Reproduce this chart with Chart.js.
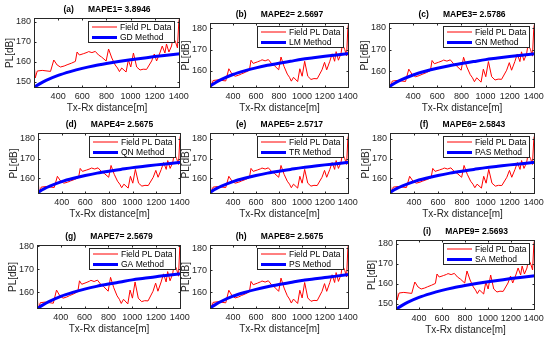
<!DOCTYPE html>
<html>
<head>
<meta charset="utf-8">
<script src="https://cdn.jsdelivr.net/npm/chart.js@4.4.1/dist/chart.umd.min.js"></script>
<style>
  body { margin: 0; background: #fff; }
  #fig { position: relative; width: 550px; height: 337px; overflow: hidden; background: #fff; }
  #fig canvas { position: absolute; }
</style>
</head>
<body>
<div id="fig"></div>
<script>
// measured field path loss (same in every panel)
const fieldDist = [200, 210, 227, 268, 337, 364, 392, 419, 450, 474, 510, 543, 557, 576, 612, 640, 653, 680, 708, 735, 760, 798, 818, 845, 873, 892, 908, 927, 963, 982, 1002, 1024, 1051, 1079, 1105, 1133, 1175, 1197, 1216, 1243, 1263, 1285, 1298, 1318, 1340, 1353, 1373, 1389, 1400, 1410];
const fieldPL = [160, 152, 155.5, 155.8, 155.3, 161, 158.5, 157.5, 158, 158.6, 159.4, 160.3, 165, 163.5, 164.2, 164.8, 165.2, 164.7, 165.3, 163.5, 162.5, 160.5, 166.5, 162, 158.5, 157, 155.2, 157, 155, 161, 157.5, 164.5, 157.5, 156, 156.4, 156.3, 160.5, 164, 160.5, 164.5, 168, 164.5, 169, 165, 168, 172.5, 170, 167, 180, 183];

// fitted model curves
const fitDist = [200, 250, 300, 400, 500, 600, 700, 800, 900, 1000, 1100, 1200, 1300, 1410];
const fitLow = [147.3, 149.2, 150.8, 153.3, 155.2, 156.8, 158.1, 159.2, 160.2, 161.1, 161.9, 162.7, 163.4, 164.1];
const fitHigh = [152.9, 154.6, 156.0, 158.3, 160.0, 161.4, 162.6, 163.6, 164.5, 165.4, 166.1, 166.8, 167.4, 168.1];

const panelTags = ['(a)', '(b)', '(c)', '(d)', '(e)', '(f)', '(g)', '(h)', '(i)'];
const mapeText = ['MAPE1= 3.8946', 'MAPE2= 2.5697', 'MAPE3= 2.5786', 'MAPE4= 2.5675', 'MAPE5= 2.5717', 'MAPE6= 2.5843', 'MAPE7= 2.5679', 'MAPE8= 2.5675', 'MAPE9= 2.5693'];
const methodNames = ['GD Method', 'LM Method', 'GN Method', 'QN Method', 'TR Method', 'PAS Method', 'GA Method', 'PS Method', 'SA Method'];

const xTickValues = [400, 600, 800, 1000, 1200, 1400];
const yTicksWide = [150, 160, 170, 180];
const yTicksNarrow = [160, 170, 180];

// plot boxes on the page: left, top, right, bottom
const boxes = [
  [34, 18, 180, 88], [210, 23, 349, 88], [389, 23, 535, 88],
  [38, 133, 181, 194], [210, 133, 349, 194], [390, 133, 535, 194],
  [37, 245, 181, 309], [210, 245, 349, 309], [396, 240, 535, 310]
];
const yRanges = [
  [147, 182], [152, 182.4], [152.3, 182.3],
  [152, 183], [152, 183], [152, 183],
  [152.8, 180.5], [152.5, 181.5], [147, 182]
];

const FONT = 'Liberation Sans';
const AX = '#262626';

const boxLegend = {
  id: 'boxLegend',
  afterDraw(chart) {
    const ctx = chart.ctx, a = chart.chartArea;
    const w = 87, h = 22;
    const x = Math.round(a.right - w - 5), y = Math.round(a.top + 3);
    ctx.save();
    ctx.fillStyle = '#fff';
    ctx.fillRect(x, y, w, h);
    ctx.strokeStyle = AX;
    ctx.lineWidth = 1;
    ctx.strokeRect(x + 0.5, y + 0.5, w - 1, h - 1);
    chart.data.datasets.forEach((ds, k) => {
      const cy = y + 6 + k * 10.5;
      ctx.strokeStyle = ds.borderColor;
      ctx.lineWidth = ds.borderWidth;
      ctx.beginPath();
      ctx.moveTo(x + 4, cy);
      ctx.lineTo(x + 29, cy);
      ctx.stroke();
      ctx.fillStyle = '#000';
      ctx.font = '8.5px "' + FONT + '"';
      ctx.textBaseline = 'middle';
      ctx.fillText(ds.label, x + 32, cy + 0.5);
    });
    ctx.restore();
  }
};

const axesFrame = {
  id: 'axesFrame',
  afterDraw(chart) {
    const ctx = chart.ctx, a = chart.chartArea;
    const sx = chart.scales.x, sy = chart.scales.y;
    ctx.save();
    ctx.strokeStyle = AX;
    ctx.lineWidth = 1;
    const l = Math.round(a.left) + 0.5, r = Math.round(a.right) - 0.5;
    const t = Math.round(a.top) + 0.5, b = Math.round(a.bottom) - 0.5;
    ctx.strokeRect(l, t, r - l, b - t);
    ctx.beginPath();
    sx.ticks.forEach(tk => {
      const px = Math.round(sx.getPixelForValue(tk.value)) + 0.5;
      ctx.moveTo(px, b); ctx.lineTo(px, b - 2);
      ctx.moveTo(px, t); ctx.lineTo(px, t + 2);
    });
    sy.ticks.forEach(tk => {
      const py = Math.round(sy.getPixelForValue(tk.value)) + 0.5;
      ctx.moveTo(l, py); ctx.lineTo(l + 2, py);
      ctx.moveTo(r, py); ctx.lineTo(r - 2, py);
    });
    ctx.stroke();
    ctx.restore();
  }
};

const fig = document.getElementById('fig');

boxes.forEach((bx, i) => {
  const [L, T, R, B] = bx;
  const yW = 38, xH = 28, topH = 14, padR = 12;
  const cv = document.createElement('canvas');
  const cw = (R - L) + yW + padR, ch = (B - T) + topH + xH;
  cv.width = cw; cv.height = ch;
  cv.style.left = (L - yW) + 'px';
  cv.style.top = (T - topH) + 'px';
  cv.style.width = cw + 'px';
  cv.style.height = ch + 'px';
  fig.appendChild(cv);

  const wide = (i === 0 || i === 8);
  const fit = wide ? fitLow : fitHigh;
  const yTicks = wide ? yTicksWide : yTicksNarrow;

  new Chart(cv, {
    type: 'scatter',
    data: {
      datasets: [
        {
          label: 'Field PL Data',
          data: fieldDist.map((d, k) => ({ x: d, y: fieldPL[k] })),
          showLine: true,
          borderColor: 'rgb(255,0,0)',
          borderWidth: 1,
          pointRadius: 0,
          order: 1
        },
        {
          label: methodNames[i],
          data: fitDist.map((d, k) => ({ x: d, y: fit[k] })),
          showLine: true,
          borderColor: 'rgb(0,0,255)',
          borderWidth: 3,
          pointRadius: 0,
          cubicInterpolationMode: 'monotone',
          order: 0
        }
      ]
    },
    options: {
      responsive: false,
      animation: false,
      devicePixelRatio: 1,
      layout: { padding: { left: 0, right: padR, top: 0, bottom: 0 } },
      plugins: {
        legend: { display: false },
        tooltip: { enabled: false },
        title: {
          display: true,
          fullSize: false,
          text: panelTags[i] + '      ' + mapeText[i],
          color: '#000',
          font: { family: FONT, size: 8.5, weight: 'bold', lineHeight: 1.2 },
          padding: { top: 1, bottom: 2.8 }
        }
      },
      scales: {
        x: {
          type: 'linear',
          min: 200,
          max: 1410,
          grid: { display: false, drawTicks: false },
          border: { display: false },
          afterBuildTicks: s => { s.ticks = xTickValues.map(v => ({ value: v })); },
          afterFit: s => { s.height = xH; },
          ticks: { color: AX, padding: 3, maxRotation: 0, autoSkip: false, callback: v => String(v), font: { family: FONT, size: 9 } },
          title: { display: true, text: 'Tx-Rx distance[m]', color: AX, font: { family: FONT, size: 10, lineHeight: 1.2 }, padding: { top: 0, bottom: 2 } }
        },
        y: {
          type: 'linear',
          min: yRanges[i][0],
          max: yRanges[i][1],
          grid: { display: false, drawTicks: false },
          border: { display: false },
          afterBuildTicks: s => { s.ticks = yTicks.map(v => ({ value: v })); },
          afterFit: s => { s.width = yW; },
          ticks: { color: AX, padding: 3, callback: v => String(v), font: { family: FONT, size: 9 } },
          title: { display: true, text: 'PL[dB]', color: AX, font: { family: FONT, size: 10, lineHeight: 1.2 }, padding: { top: 8, bottom: 0 } }
        }
      }
    },
    plugins: [boxLegend, axesFrame]
  });
});
</script>
</body>
</html>
